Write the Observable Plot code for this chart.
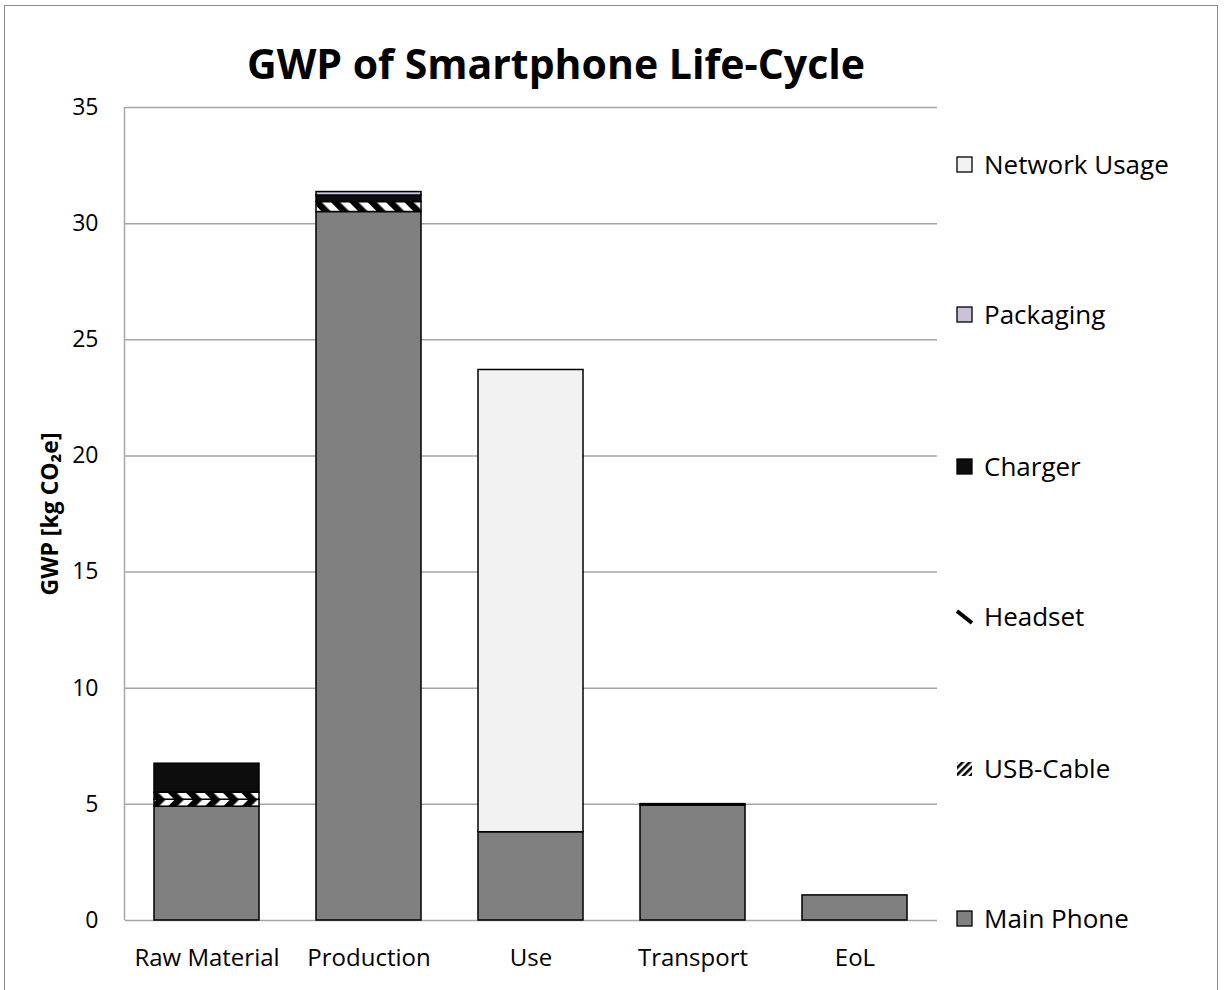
<!DOCTYPE html>
<html><head><meta charset="utf-8">
<script src="https://cdn.jsdelivr.net/npm/d3@7"></script>
<script src="https://cdn.jsdelivr.net/npm/@observablehq/plot@0.6"></script>
<style>
body{margin:0;background:#fff;font-family:"Open Sans",sans-serif;}
#wrap{position:relative;width:1225px;height:990px;overflow:hidden;}
#border{position:absolute;left:4px;top:5px;width:1214px;height:1000px;border:1.5px solid #8c8c8c;box-sizing:border-box;}
#title{position:absolute;left:0;width:1112px;top:36px;text-align:center;font-weight:bold;font-size:41px;line-height:54px;color:#000;}
#chart{position:absolute;left:0;top:0;}
#legend{position:absolute;left:956px;top:0;}
.item{position:absolute;left:0;display:flex;align-items:center;white-space:nowrap;font-size:26px;color:#000;height:34px;}
.item svg{margin-right:11px;}
</style></head>
<body><div id="wrap"><div id="border"></div><div id="chart"></div><div id="title">GWP of Smartphone Life-Cycle</div><div id="legend"></div></div>
<script>
const categories = ["Raw Material", "Production", "Use", "Transport", "EoL"];
const seriesNames = ["Main Phone", "USB-Cable", "Headset", "Charger", "Packaging", "Network Usage"];
const mainPhone    = [4.9, 30.5, 3.8, 4.95, 1.08];
const usbCable     = [0.3, 0, 0, 0, 0];
const headset      = [0.3, 0.43, 0, 0, 0];
const charger      = [1.25, 0.28, 0, 0.06, 0];
const packaging    = [0, 0.15, 0, 0, 0];
const networkUsage = [0, 0, 19.9, 0, 0];
const yTicks = [0, 5, 10, 15, 20, 25, 30, 35];
const yLabel = "GWP [kg CO\u2082e]";

const seriesValues = [mainPhone, usbCable, headset, charger, packaging, networkUsage];
const fills = ["#808080", "url(#pat-usb)", "url(#pat-headset)", "#0d0d0d", "#ccc0da", "#f2f2f2"];

const rows = [];
seriesNames.forEach((s, i) => categories.forEach((c, j) => {
  if (seriesValues[i][j] > 0) rows.push({cat: c, series: s, value: seriesValues[i][j]});
}));

const chart = Plot.plot({
  width: 1225, height: 990,
  marginLeft: 125, marginRight: 288, marginTop: 107, marginBottom: 70,
  style: {fontFamily: "Open Sans, sans-serif", fontSize: "18px", color: "#000", background: "transparent"},
  x: {domain: categories, paddingInner: 0.35, paddingOuter: 0.175, label: null},
  y: {domain: [0, 35], ticks: yTicks, label: null},
  color: {domain: seriesNames, range: fills},
  marks: [
    Plot.gridY(yTicks, {stroke: "#a6a6a6", strokeOpacity: 1, strokeWidth: 1.5}),
    Plot.axisY(yTicks, {tickSize: 0, tickPadding: 27, fontSize: 23, label: null}),
    Plot.axisX({tickSize: 0, tickPadding: 28, fontSize: 24, label: null}),
    Plot.barY(rows, Plot.stackY({x: "cat", y: "value", z: "series", order: seriesNames, fill: "series", stroke: "#000", strokeWidth: 1.5})),
    Plot.text([yLabel], {frameAnchor: "left", textAnchor: "middle", rotate: -90, dx: -75, fontWeight: "bold", fontSize: 23})
  ]
});

// hatch patterns
const svg = d3.select(chart);
const defs = svg.insert("defs", ":first-child");
function hatch(id, angle) {
  const p = defs.append("pattern").attr("id", id).attr("patternUnits", "userSpaceOnUse")
    .attr("width", 13).attr("height", 13).attr("patternTransform", `rotate(${angle})`);
  p.append("rect").attr("width", 13).attr("height", 13).attr("fill", "#fff");
  p.append("rect").attr("width", 6.5).attr("height", 13).attr("fill", "#000");
}
hatch("pat-usb", 45);
hatch("pat-headset", -45);
// vertical axis line at left edge of plot area
const ys = chart.scale("y");
svg.insert("line", "g[aria-label='bar']")
  .attr("x1", 124.5).attr("x2", 124.5)
  .attr("y1", ys.apply(35)).attr("y2", ys.apply(0))
  .attr("stroke", "#a6a6a6").attr("stroke-width", 1.5);
document.getElementById("chart").appendChild(chart);

// legend
const legendY = {"Network Usage": 164, "Packaging": 314, "Charger": 466, "Headset": 616, "USB-Cable": 768, "Main Phone": 918};
const legend = document.getElementById("legend");
const legendOrder = ["Network Usage", "Packaging", "Charger", "Headset", "USB-Cable", "Main Phone"];
legendOrder.forEach(name => {
  const div = document.createElement("div");
  div.className = "item";
  div.style.top = (legendY[name] - 17) + "px";
  const i = seriesNames.indexOf(name);
  let sym;
  if (name === "Headset") {
    sym = `<svg width="17" height="17"><line x1="1" y1="3" x2="16" y2="15" stroke="#000" stroke-width="4"/></svg>`;
  } else if (name === "USB-Cable") {
    sym = `<svg width="17" height="17"><defs><pattern id="lg-usb" patternUnits="userSpaceOnUse" width="5" height="5" patternTransform="rotate(45)"><rect width="5" height="5" fill="#fff"/><rect width="2.6" height="5" fill="#000"/></pattern></defs><rect x="1" y="2" width="15" height="14" fill="url(#lg-usb)"/></svg>`;
  } else {
    sym = `<svg width="17" height="17"><rect x="1" y="1" width="15" height="15" fill="${fills[i]}" stroke="#000" stroke-width="1.3"/></svg>`;
  }
  div.innerHTML = sym + `<span>${name}</span>`;
  legend.appendChild(div);
});
</script>
</body></html>
